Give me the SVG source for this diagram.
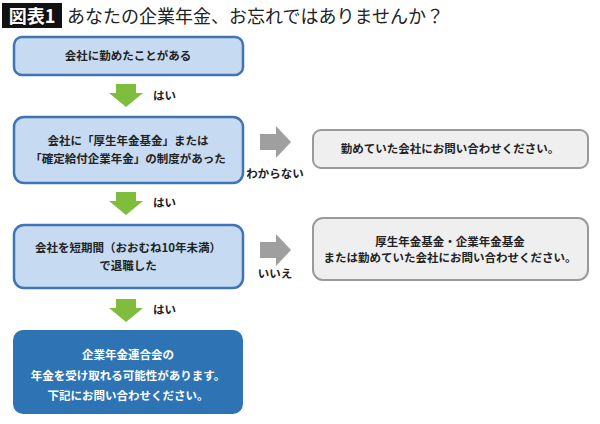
<svg xmlns="http://www.w3.org/2000/svg" width="600" height="424" viewBox="0 0 600 424">
<style>
text{font-family:"Noto Sans CJK JP","Noto Sans CJK SC",sans-serif;font-weight:bold;font-size:11.5px;text-anchor:middle;fill:#222}
.q{fill:#c6dbf1;stroke:#3f74b5;stroke-width:2.5}
.g{fill:#efefef;stroke:#9a9a9a;stroke-width:2}
.ga{fill:#7fbe3c}
.gr{fill:#9f9f9f}
.l{text-anchor:start}
.w{fill:#fff}
</style>
<defs>
<path id="down" d="M-10 0H10V9H17L0 23L-17 9H-10Z"/>
<path id="right" d="M0 -8H16V-16L31 0L16 16V8H0Z"/>
</defs>
<rect x="2" y="3" width="60" height="25" fill="#111"/>
<text x="32" y="23" class="w" style="font-size:18px">図表1</text>
<text x="67" y="23" class="l" style="font-size:18px;font-weight:normal">あなたの企業年金、お忘れではありませんか？</text>
<g id="connectors">
<use href="#down" x="126" y="84" class="ga"/><text x="153" y="100" class="l">はい</text>
<use href="#down" x="126" y="192" class="ga"/><text x="153" y="207" class="l">はい</text>
<use href="#down" x="126" y="299" class="ga"/><text x="153" y="314" class="l">はい</text>
<use href="#right" x="260" y="142" class="gr"/><text x="275" y="178">わからない</text>
<use href="#right" x="260" y="250" class="gr"/><text x="275" y="278">いいえ</text>
</g>
<g id="n1"><rect x="14" y="37" width="229" height="38" rx="8" class="q"/><text x="128" y="60">会社に勤めたことがある</text></g>
<g id="n2"><rect x="14" y="117" width="229" height="66" rx="10" class="q"/><text x="128" y="145">会社に「厚生年金基金」または</text><text x="128" y="163">「確定給付企業年金」の制度があった</text></g>
<g id="n3"><rect x="14" y="225" width="229" height="63" rx="10" class="q"/><text x="128" y="252">会社を短期間（おおむね10年未満）</text><text x="128" y="270">で退職した</text></g>
<g id="n4"><rect x="13" y="330" width="230" height="84" rx="10" fill="#2e74b5"/><text x="128" y="359" class="w">企業年金連合会の</text><text x="128" y="380" class="w">年金を受け取れる可能性があります。</text><text x="128" y="400" class="w">下記にお問い合わせください。</text></g>
<g id="a1"><rect x="313" y="130" width="275" height="38" rx="8" class="g"/><text x="450" y="153">勤めていた会社にお問い合わせください。</text></g>
<g id="a2"><rect x="313" y="218" width="275" height="62" rx="10" class="g"/><text x="450" y="246">厚生年金基金・企業年金基金</text><text x="450" y="262">または勤めていた会社にお問い合わせください。</text></g>
</svg>
